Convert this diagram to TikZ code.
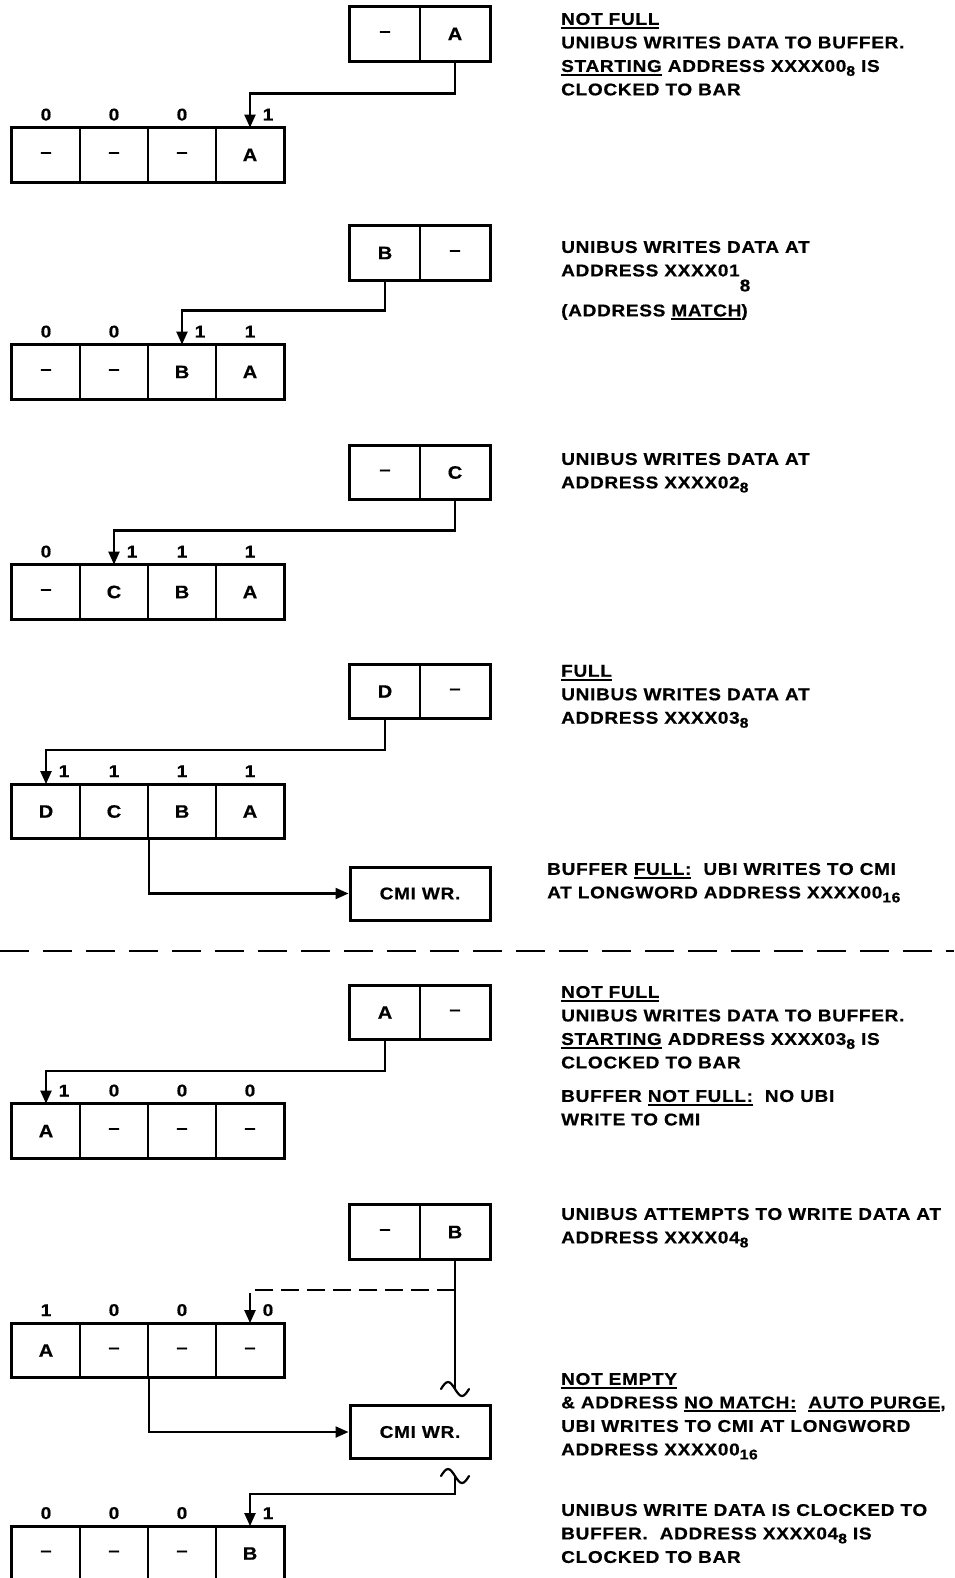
\documentclass[tikz,border=0pt]{standalone}
\usepackage{fontspec}
\setmainfont{Liberation Sans}[FakeStretch=1.12,LetterSpace=4,BoldFeatures={FakeBold=0.6}]
\usetikzlibrary{arrows.meta}
\newcommand\lowsub[1]{\raisebox{-4pt}{\fontsize{14}{14}\selectfont #1}}
\newcommand\undr[1]{\setbox0=\hbox{#1}\rlap{\rule[-4pt]{\wd0}{2pt}}\box0\relax}

\begin{document}
\begin{tikzpicture}[x=1pt, y=-1pt,
	cell/.style={draw, line width=1.8pt, minimum width=68pt, minimum height=53pt, inner sep=0pt, font=\fontsize{18}{18}\selectfont\bfseries},
	slot/.style={cell, minimum width=70pt},
	frame/.style={draw, line width=3pt},
	cmi/.style={draw, line width=3pt, minimum width=140pt, minimum height=53pt, inner sep=0pt, font=\fontsize{17}{17}\selectfont\bfseries},
	bit/.style={anchor=base, inner sep=0pt, font=\fontsize{17}{17}\selectfont\bfseries},
	note/.style={anchor=north west, align=left, inner sep=0pt, font=\fontsize{17}{23.5}\selectfont\bfseries},
	wire/.style={line width=2.2pt},
	arr/.style={wire, -{Triangle[length=13pt, width=11pt]}},
	gap/.style={dash pattern=on 18pt off 8pt},
	brk/.style={wire, line cap=round}]
	\useasboundingbox (0, 0) rectangle (954, 1578);
	% Step 1: not full, first word
	\node[slot] (s1a) at (385, 34) {\textendash};
	\node[slot] (s1b) at (455, 34) {A};
	\draw[frame] (s1a.north west) rectangle (s1b.south east);
	\node[cell] (r1a) at (46, 155) {\textendash};
	\node[cell] (r1b) at (114, 155) {\textendash};
	\node[cell] (r1c) at (182, 155) {\textendash};
	\node[cell] (r1d) at (250, 155) {A};
	\draw[frame] (r1a.north west) rectangle (r1d.south east);
	\node[bit] (b1a) at (46, 120.5) {0};
	\node[bit] (b1b) at (114, 120.5) {0};
	\node[bit] (b1c) at (182, 120.5) {0};
	\node[bit] (b1d) at (268, 120.5) {1};
	\coordinate (k1) at (250, 93.5);
	\draw[arr] (s1b.south) |- (k1) -- (r1d.north);
	\node[note] (n1) at (561, 12.8) {\undr{NOT FULL}\\ UNIBUS WRITES DATA TO BUFFER.\\ \undr{STARTING} ADDRESS XXXX00\lowsub{8} IS\\ CLOCKED TO BAR};
	% Step 2: address match
	\node[slot] (s2a) at (385, 253) {B};
	\node[slot] (s2b) at (455, 253) {\textendash};
	\draw[frame] (s2a.north west) rectangle (s2b.south east);
	\node[cell] (r2a) at (46, 372) {\textendash};
	\node[cell] (r2b) at (114, 372) {\textendash};
	\node[cell] (r2c) at (182, 372) {B};
	\node[cell] (r2d) at (250, 372) {A};
	\draw[frame] (r2a.north west) rectangle (r2d.south east);
	\node[bit] (b2a) at (46, 337.5) {0};
	\node[bit] (b2b) at (114, 337.5) {0};
	\node[bit] (b2c) at (200, 337.5) {1};
	\node[bit] (b2d) at (250, 337.5) {1};
	\coordinate (k2) at (182, 310.5);
	\draw[arr] (s2a.south) |- (k2) -- (r2c.north);
	\node[note] (n2) at (561, 240.8) {UNIBUS WRITES DATA AT\\ ADDRESS XXXX01\raisebox{-15pt}[0pt][0pt]{8}\\[16.5pt] (ADDRESS \undr{MATCH})};
	% Step 3
	\node[slot] (s3a) at (385, 472.5) {\textendash};
	\node[slot] (s3b) at (455, 472.5) {C};
	\draw[frame] (s3a.north west) rectangle (s3b.south east);
	\node[cell] (r3a) at (46, 592) {\textendash};
	\node[cell] (r3b) at (114, 592) {C};
	\node[cell] (r3c) at (182, 592) {B};
	\node[cell] (r3d) at (250, 592) {A};
	\draw[frame] (r3a.north west) rectangle (r3d.south east);
	\node[bit] (b3a) at (46, 557.5) {0};
	\node[bit] (b3b) at (132, 557.5) {1};
	\node[bit] (b3c) at (182, 557.5) {1};
	\node[bit] (b3d) at (250, 557.5) {1};
	\coordinate (k3) at (114, 530.5);
	\draw[arr] (s3b.south) |- (k3) -- (r3b.north);
	\node[note] (n3) at (561, 452.8) {UNIBUS WRITES DATA AT\\ ADDRESS XXXX02\lowsub{8}};
	% Step 4: full, write to CMI
	\node[slot] (s4a) at (385, 691.5) {D};
	\node[slot] (s4b) at (455, 691.5) {\textendash};
	\draw[frame] (s4a.north west) rectangle (s4b.south east);
	\node[cell] (r4a) at (46, 811.5) {D};
	\node[cell] (r4b) at (114, 811.5) {C};
	\node[cell] (r4c) at (182, 811.5) {B};
	\node[cell] (r4d) at (250, 811.5) {A};
	\draw[frame] (r4a.north west) rectangle (r4d.south east);
	\node[bit] (b4a) at (64, 777) {1};
	\node[bit] (b4b) at (114, 777) {1};
	\node[bit] (b4c) at (182, 777) {1};
	\node[bit] (b4d) at (250, 777) {1};
	\coordinate (k4) at (46, 750);
	\draw[arr] (s4a.south) |- (k4) -- (r4a.north);
	\node[cmi] (cmi1) at (420, 893.5) {CMI WR.};
	\draw[arr] (r4b.south east) |- (cmi1.west);
	\node[note] (n4) at (561, 664.8) {\undr{FULL}\\ UNIBUS WRITES DATA AT\\ ADDRESS XXXX03\lowsub{8}};
	\node[note] (n5) at (547, 862.8) {BUFFER \undr{FULL:}\ \ UBI WRITES TO CMI\\ AT LONGWORD ADDRESS XXXX00\lowsub{16}};
	% Separator
	\draw[line width=2pt, dash pattern=on 29pt off 14pt] (0, 951) -- (954, 951);
	% Step 5: not full, first word at 03
	\node[slot] (s5a) at (385, 1012.5) {A};
	\node[slot] (s5b) at (455, 1012.5) {\textendash};
	\draw[frame] (s5a.north west) rectangle (s5b.south east);
	\node[cell] (r5a) at (46, 1131) {A};
	\node[cell] (r5b) at (114, 1131) {\textendash};
	\node[cell] (r5c) at (182, 1131) {\textendash};
	\node[cell] (r5d) at (250, 1131) {\textendash};
	\draw[frame] (r5a.north west) rectangle (r5d.south east);
	\node[bit] (b5a) at (64, 1096.5) {1};
	\node[bit] (b5b) at (114, 1096.5) {0};
	\node[bit] (b5c) at (182, 1096.5) {0};
	\node[bit] (b5d) at (250, 1096.5) {0};
	\coordinate (k5) at (46, 1071);
	\draw[arr] (s5a.south) |- (k5) -- (r5a.north);
	\node[note] (n6) at (561, 985.8) {\undr{NOT FULL}\\ UNIBUS WRITES DATA TO BUFFER.\\ \undr{STARTING} ADDRESS XXXX03\lowsub{8} IS\\ CLOCKED TO BAR\\[10pt] BUFFER \undr{NOT FULL:}\ \ NO UBI\\ WRITE TO CMI};
	% Step 6: no match, auto purge
	\node[slot] (s6a) at (385, 1232) {\textendash};
	\node[slot] (s6b) at (455, 1232) {B};
	\draw[frame] (s6a.north west) rectangle (s6b.south east);
	\node[cell] (r6a) at (46, 1350.5) {A};
	\node[cell] (r6b) at (114, 1350.5) {\textendash};
	\node[cell] (r6c) at (182, 1350.5) {\textendash};
	\node[cell] (r6d) at (250, 1350.5) {\textendash};
	\draw[frame] (r6a.north west) rectangle (r6d.south east);
	\node[bit] (b6a) at (46, 1316) {1};
	\node[bit] (b6b) at (114, 1316) {0};
	\node[bit] (b6c) at (182, 1316) {0};
	\node[bit] (b6d) at (268, 1316) {0};
	\coordinate (j6) at (455, 1290);
	\coordinate (w1) at (455, 1389);
	\draw[wire] (s6b.south) -- (w1);
	\draw[brk] (w1) ++(-14, 0) sin ++(7, -7) cos ++(7, 7) sin ++(7, 7) cos ++(7, -7);
	\draw[arr, gap] (j6) -| (r6d.north);
	\node[cmi] (cmi2) at (420, 1432) {CMI WR.};
	\draw[arr] (r6b.south east) |- (cmi2.west);
	\coordinate (w2) at (455, 1476);
	\draw[brk] (w2) ++(-14, 0) sin ++(7, -7) cos ++(7, 7) sin ++(7, 7) cos ++(7, -7);
	\node[cell] (r7a) at (46, 1553.5) {\textendash};
	\node[cell] (r7b) at (114, 1553.5) {\textendash};
	\node[cell] (r7c) at (182, 1553.5) {\textendash};
	\node[cell] (r7d) at (250, 1553.5) {B};
	\draw[frame] (r7a.north west) rectangle (r7d.south east);
	\node[bit] (b7a) at (46, 1519) {0};
	\node[bit] (b7b) at (114, 1519) {0};
	\node[bit] (b7c) at (182, 1519) {0};
	\node[bit] (b7d) at (268, 1519) {1};
	\coordinate (k7) at (250, 1494);
	\draw[arr] (w2) |- (k7) -- (r7d.north);
	\node[note] (n7) at (561, 1207.8) {UNIBUS ATTEMPTS TO WRITE DATA AT\\ ADDRESS XXXX04\lowsub{8}};
	\node[note] (n8) at (561, 1372.8) {\undr{NOT EMPTY}\\ \& ADDRESS \undr{NO MATCH:}\ \ \undr{AUTO PURGE},\\ UBI WRITES TO CMI AT LONGWORD\\ ADDRESS XXXX00\lowsub{16}};
	\node[note] (n9) at (561, 1503.8) {UNIBUS WRITE DATA IS CLOCKED TO\\ BUFFER.\ \ ADDRESS XXXX04\lowsub{8} IS\\ CLOCKED TO BAR};
\end{tikzpicture}
\end{document}
